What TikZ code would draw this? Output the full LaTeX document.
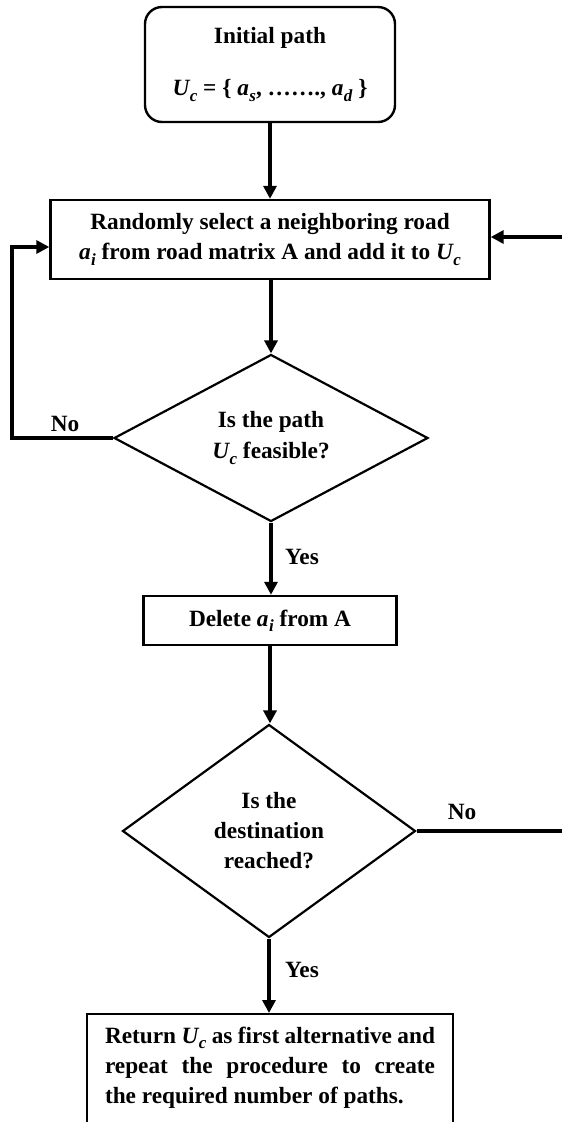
\documentclass[tikz,border=0pt]{standalone}
\usepackage{fontspec}
\setmainfont{Liberation Serif}
\usetikzlibrary{arrows.meta,shapes.geometric}
\newcommand{\mvar}[2]{{\bfseries\itshape #1\kern0.5pt\raisebox{-0.22em}{\fontsize{17}{17}\selectfont #2}}}
\begin{document}
\begin{tikzpicture}[x=1pt,y=-1pt,
  txt/.style={font=\bfseries\fontsize{23.3}{30}\selectfont, align=center},
  boxstyle/.style={txt, draw, line width=2.4pt, inner sep=0pt},
  dia/.style={txt, draw, diamond, line width=2.2pt, inner sep=0pt},
  conn/.style={line width=3.6pt, -{Triangle[length=13pt,width=13pt]}},
  lbl/.style={txt, inner sep=0pt}]
\useasboundingbox (0,0) rectangle (562,1122);
\clip (0,0) rectangle (562,1122);

\node[boxstyle, rounded corners=17pt, minimum width=250pt, minimum height=115pt] (init) at (270,64.5)
  {Initial path\\[22pt]\mvar{U}{c} = \{ \mvar{a}{s}, ……., \mvar{a}{d} \}};
\node[boxstyle, minimum width=439pt, minimum height=79pt] (sel) at (270,239.5)
  {Randomly select a neighboring road\\ \mvar{a}{i} from road matrix A and add it to \mvar{U}{c}};
\node[dia, aspect=1.88, minimum width=314pt, minimum height=167pt] (feas) at (271,438)
  {Is the path\\[1pt] \mvar{U}{c} feasible?};
\node[boxstyle, minimum width=253pt, minimum height=49pt] (del) at (270,620.5)
  {Delete \mvar{a}{i} from A};
\node[dia, aspect=1.375, minimum width=293pt, minimum height=213pt] (dest) at (269,831)
  {Is the\\destination\\reached?};
\node[draw, line width=2.4pt, minimum width=366pt, minimum height=140pt, anchor=north] (retbox) at (270,1013) {};
\node[txt, align=justify, text width=330pt, inner sep=0pt, anchor=north] (ret) at (270,1027)
  {Return \mvar{U}{c} as first alternative and\linebreak repeat the procedure to create\linebreak the required number of paths.};

\coordinate (lft) at (12,438);
\coordinate (rgt) at (580,831);

\draw[conn] (init.south) -- (sel.north);
\draw[conn] (sel.south -| feas.north) -- (feas.north);
\draw[conn] (feas.south) -- (del.north -| feas.south);
\draw[conn] (del.south) -- (dest.north -| del.south);
\draw[conn] (dest.south) -- (retbox.north -| dest.south);
\draw[conn] (feas.west) -- (lft) |- ([yshift=-7.5pt]sel.west);
\draw[conn] (dest.east) -- (rgt) |- ([yshift=2.5pt]sel.east);

\node[lbl] (noL) at (65,424) {No};
\node[lbl] (yesA) at (302,557) {Yes};
\node[lbl] (noR) at (462,812) {No};
\node[lbl] (yesB) at (302,970) {Yes};
\end{tikzpicture}
\end{document}
